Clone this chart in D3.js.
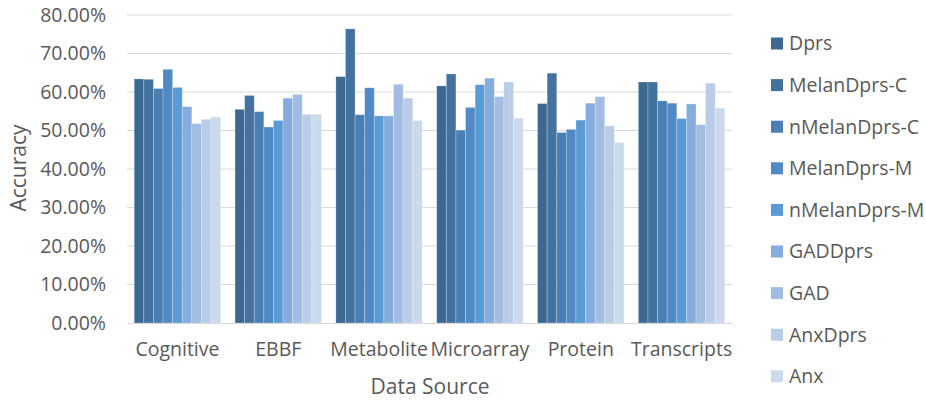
<!DOCTYPE html>
<html>
<head>
<meta charset="utf-8">
<script src="https://cdn.jsdelivr.net/npm/d3@7/dist/d3.min.js"></script>
<style>
  html, body { margin: 0; padding: 0; background: #fff; }
  svg { display: block; }
  text { font-family: "Open Sans", "Noto Sans", sans-serif; fill: #595959; }
</style>
</head>
<body>
<svg id="chart" width="926" height="400"></svg>
<script>
// Data sources (x categories)
const categories = ["Cognitive", "EBBF", "Metabolite", "Microarray", "Protein", "Transcripts"];

// Methods (series), in legend order
const seriesNames = ["Dprs", "MelanDprs-C", "nMelanDprs-C", "MelanDprs-M", "nMelanDprs-M",
                     "GADDprs", "GAD", "AnxDprs", "Anx"];

// Accuracy (fraction) per series, one value per category
const dprs        = [0.634, 0.555, 0.640, 0.616, 0.570, 0.626];
const melanDprsC  = [0.633, 0.591, 0.764, 0.647, 0.649, 0.626];
const nMelanDprsC = [0.609, 0.549, 0.541, 0.501, 0.495, 0.577];
const melanDprsM  = [0.659, 0.509, 0.611, 0.560, 0.503, 0.571];
const nMelanDprsM = [0.612, 0.526, 0.538, 0.619, 0.527, 0.531];
const gadDprs     = [0.562, 0.584, 0.538, 0.636, 0.571, 0.569];
const gad         = [0.518, 0.594, 0.620, 0.588, 0.588, 0.515];
const anxDprs     = [0.529, 0.542, 0.584, 0.626, 0.512, 0.623];
const anx         = [0.535, 0.542, 0.526, 0.532, 0.469, 0.558];

const seriesValues = [dprs, melanDprsC, nMelanDprsC, melanDprsM, nMelanDprsM, gadDprs, gad, anxDprs, anx];

// Y axis ticks
const yTicks = [0, 0.1, 0.2, 0.3, 0.4, 0.5, 0.6, 0.7, 0.8];

const colors = ["#3d6891", "#44729f", "#4a7fb4", "#5189c6", "#5b9bd5",
                "#84acdc", "#a2bde2", "#b9cde8", "#cbd9ec"];

const svg = d3.select("#chart");
const plot = { left: 127, right: 732, top: 15, bottom: 323 };
const labelSize = 19.5;

const x0 = d3.scaleBand().domain(categories).range([plot.left, plot.right]).paddingInner(0).paddingOuter(0);
const x1 = d3.scaleBand().domain(seriesNames).range([0, x0.bandwidth()]).paddingInner(0).paddingOuter(0.75);
const y = d3.scaleLinear().domain([0, 0.8]).range([plot.bottom, plot.top]);
const color = d3.scaleOrdinal().domain(seriesNames).range(colors);
const fmt = d3.format(".2%");

// Gridlines
svg.append("g")
  .selectAll("line")
  .data(yTicks.filter(t => t > 0))
  .join("line")
  .attr("x1", plot.left).attr("x2", plot.right)
  .attr("y1", d => y(d)).attr("y2", d => y(d))
  .attr("stroke", "#d9d9d9").attr("stroke-width", 1);

// Y axis labels
const yAxis = d3.axisLeft(y).tickValues(yTicks).tickFormat(fmt).tickSize(0).tickPadding(21);
const yg = svg.append("g").attr("transform", `translate(${plot.left},0)`).call(yAxis);
yg.select(".domain").remove();
yg.selectAll("text").attr("font-size", labelSize).attr("font-family", null).attr("fill", "#595959");

// Bars
const rows = categories.map((c, i) => ({ cat: c, vals: seriesNames.map((s, j) => ({ s, v: seriesValues[j][i] })) }));
svg.append("g")
  .selectAll("g")
  .data(rows)
  .join("g")
  .attr("transform", d => `translate(${x0(d.cat)},0)`)
  .selectAll("rect")
  .data(d => d.vals)
  .join("rect")
  .attr("x", d => x1(d.s))
  .attr("width", x1.bandwidth())
  .attr("y", d => y(d.v))
  .attr("height", d => y(0) - y(d.v))
  .attr("fill", d => color(d.s))
  .attr("stroke", "#ffffff").attr("stroke-opacity", 0.3).attr("stroke-width", 0.8);

// X axis
const xAxis = d3.axisBottom(x0).tickSize(0).tickPadding(19);
const xg = svg.append("g").attr("transform", `translate(0,${plot.bottom})`).call(xAxis);
xg.select(".domain").attr("stroke", "#d9d9d9").attr("stroke-width", 1.2);
xg.selectAll("text").attr("font-size", labelSize).attr("font-family", null).attr("fill", "#595959");

// Axis titles
svg.append("text")
  .attr("x", 430).attr("y", 394)
  .attr("text-anchor", "middle")
  .attr("font-size", 21)
  .text("Data Source");
svg.append("text")
  .attr("transform", "translate(26,168) rotate(-90)")
  .attr("text-anchor", "middle")
  .attr("font-size", 21)
  .text("Accuracy");

// Legend
const legend = svg.append("g")
  .selectAll("g")
  .data(seriesNames)
  .join("g")
  .attr("transform", (d, i) => `translate(771,${43.5 + i * 41.6})`);
legend.append("rect")
  .attr("x", 0).attr("y", -6).attr("width", 12).attr("height", 12)
  .attr("fill", d => color(d));
legend.append("text")
  .attr("x", 18).attr("y", 0).attr("dy", "0.35em")
  .attr("font-size", labelSize)
  .text(d => d);
</script>
</body>
</html>
